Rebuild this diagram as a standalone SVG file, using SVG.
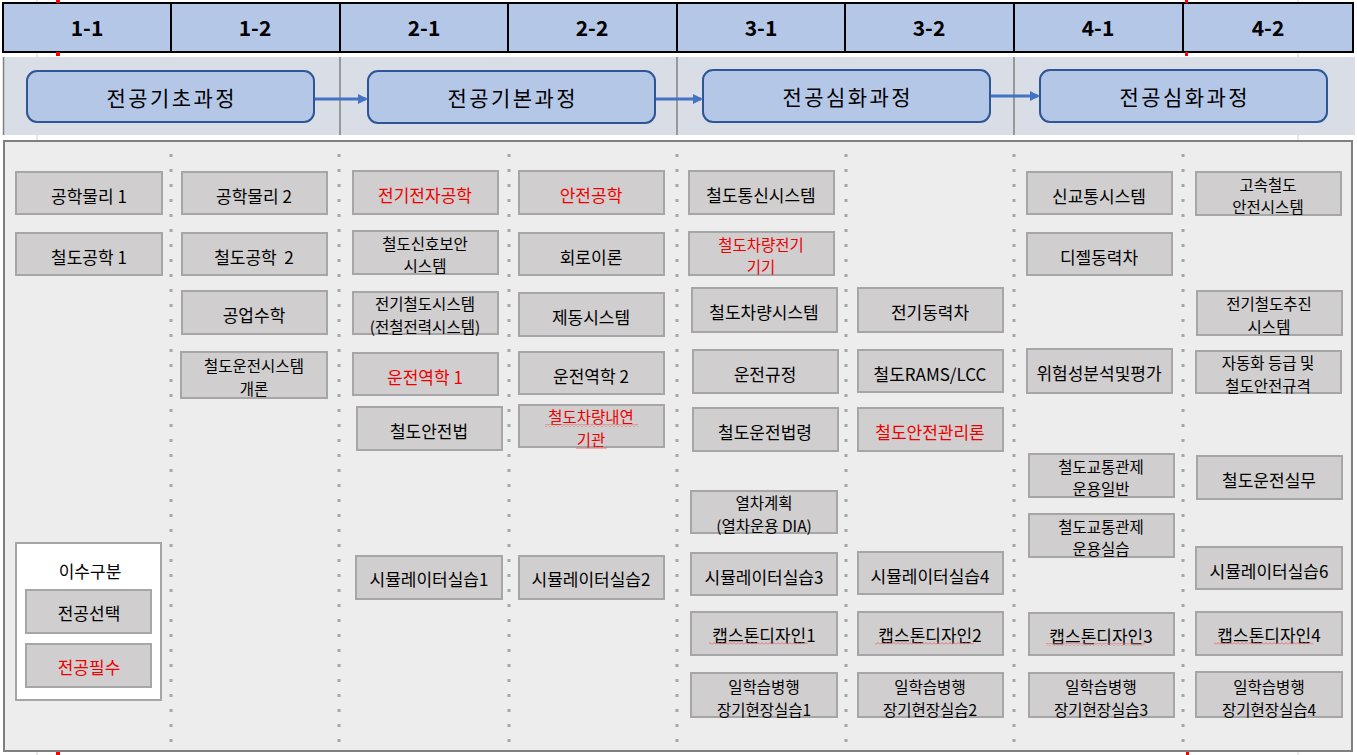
<svg xmlns="http://www.w3.org/2000/svg" width="1357" height="755" viewBox="0 0 1357 755">
<style>
.hc{fill:#b4c7e7;stroke:#000;stroke-width:2}
.ht{font-family:"Noto Sans CJK KR","Noto Sans",sans-serif;font-weight:bold;font-size:21px;fill:#000;text-anchor:middle;dominant-baseline:central}
.pb{fill:#b4c7e7;stroke:#2f5597;stroke-width:2}
.pt{font-family:"Noto Sans CJK KR","Noto Sans",sans-serif;font-size:21px;letter-spacing:2.4px;fill:#000;text-anchor:middle;dominant-baseline:central}
.c{fill:#d0cece;stroke:#a6a6a6;stroke-width:2}
.t{font-family:"Noto Sans CJK KR","Noto Sans",sans-serif;font-size:17px;fill:#000;text-anchor:middle;dominant-baseline:central}
.t2{font-family:"Noto Sans CJK KR","Noto Sans",sans-serif;font-size:15.5px;fill:#000;text-anchor:middle;dominant-baseline:central}
.r{fill:#ee0000}
.dot{stroke:#a6a6a6;stroke-width:3;stroke-dasharray:3 12}
.ar{stroke:#4472c4;stroke-width:3;fill:none}
.wv{fill:url(#wave)}
.tick{fill:#ff0000}
</style>
<defs>
<marker id="ah" markerWidth="10" markerHeight="10" refX="8" refY="5" orient="auto" markerUnits="userSpaceOnUse">
<path d="M0,0 L10,5 L0,10 z" fill="#4472c4"/>
</marker>
<pattern id="wave" width="4" height="3" patternUnits="userSpaceOnUse">
<path d="M0 2.5 L2 0.5 L4 2.5" fill="none" stroke="#e06666" stroke-width="0.9"/>
</pattern>
</defs>
<rect x="0" y="0" width="1357" height="755" fill="#ffffff"/>
<line x1="37" y1="0" x2="37" y2="755" stroke="#d4d4d4" stroke-width="1"/>
<line x1="1298" y1="0" x2="1298" y2="755" stroke="#d4d4d4" stroke-width="1"/>

<g id="header">
<rect class="hc" x="3" y="3" width="168" height="49"/>
<rect class="hc" x="171" y="3" width="169" height="49"/>
<rect class="hc" x="340" y="3" width="168" height="49"/>
<rect class="hc" x="508" y="3" width="169" height="49"/>
<rect class="hc" x="677" y="3" width="168" height="49"/>
<rect class="hc" x="845" y="3" width="169" height="49"/>
<rect class="hc" x="1014" y="3" width="169" height="49"/>
<rect class="hc" x="1183" y="3" width="170" height="49"/>
<text class="ht" x="87" y="27">1-1</text>
<text class="ht" x="255" y="27">1-2</text>
<text class="ht" x="424" y="27">2-1</text>
<text class="ht" x="592" y="27">2-2</text>
<text class="ht" x="761" y="27">3-1</text>
<text class="ht" x="929" y="27">3-2</text>
<text class="ht" x="1098" y="27">4-1</text>
<text class="ht" x="1268" y="27">4-2</text>
</g>

<g id="band">
<rect x="3" y="57" width="1352" height="78" fill="#d9dde6"/>
<line x1="3.5" y1="57" x2="3.5" y2="135" stroke="#808080" stroke-width="1.5"/>
<line x1="340" y1="57" x2="340" y2="135" stroke="#808080" stroke-width="1.5"/>
<line x1="677" y1="57" x2="677" y2="135" stroke="#808080" stroke-width="1.5"/>
<line x1="1014" y1="57" x2="1014" y2="135" stroke="#808080" stroke-width="1.5"/>
</g>

<g id="content-bg">
<rect x="4" y="141" width="1348" height="610" fill="#ededed" stroke="#7f7f7f" stroke-width="2"/>
<line class="dot" x1="171" y1="154" x2="171" y2="750"/>
<line class="dot" x1="339" y1="154" x2="339" y2="750"/>
<line class="dot" x1="509" y1="154" x2="509" y2="750"/>
<line class="dot" x1="677" y1="154" x2="677" y2="750"/>
<line class="dot" x1="846" y1="154" x2="846" y2="750"/>
<line class="dot" x1="1014" y1="154" x2="1014" y2="750"/>
<line class="dot" x1="1183" y1="154" x2="1183" y2="750"/>
</g>

<g id="connectors">
<line class="ar" x1="314" y1="99" x2="366" y2="99" marker-end="url(#ah)"/>
<line class="ar" x1="655" y1="99" x2="701" y2="99" marker-end="url(#ah)"/>
<line class="ar" x1="990" y1="96" x2="1038" y2="96" marker-end="url(#ah)"/>
</g>

<g id="p_basic"><rect class="pb" x="27" y="71" width="287" height="51" rx="10"/><text class="pt" x="171.7" y="97">전공기초과정</text></g>
<g id="p_core"><rect class="pb" x="368" y="71" width="287" height="52" rx="10"/><text class="pt" x="512.7" y="97">전공기본과정</text></g>
<g id="p_adv1"><rect class="pb" x="703" y="70" width="287" height="52" rx="10"/><text class="pt" x="847.7" y="96">전공심화과정</text></g>
<g id="p_adv2"><rect class="pb" x="1040" y="70" width="287" height="52" rx="10"/><text class="pt" x="1184.7" y="96">전공심화과정</text></g>

<!-- 1-1 -->
<g id="n_phys1"><rect class="c" x="16" y="172" width="146" height="42"/><text class="t" x="89" y="195">공학물리 1</text></g>
<g id="n_rail1"><rect class="c" x="16" y="233" width="146" height="42"/><text class="t" x="89" y="256">철도공학 1</text></g>
<!-- 1-2 -->
<g id="n_phys2"><rect class="c" x="182" y="172" width="145" height="42"/><text class="t" x="254" y="195">공학물리 2</text></g>
<g id="n_rail2"><rect class="c" x="182" y="233" width="145" height="42"/><text class="t" x="254" y="256" xml:space="preserve">철도공학  2</text></g>
<g id="n_math"><rect class="c" x="182" y="291" width="145" height="43"/><text class="t" x="254" y="314">공업수학</text></g>
<g id="n_opsys"><rect class="c" x="181" y="352" width="146" height="46"/><text class="t2" x="254" y="365">철도운전시스템</text><text class="t2" x="254" y="387.5">개론</text></g>

<!-- legend -->
<g id="legend">
<rect x="16" y="543" width="145" height="157" fill="#ffffff" stroke="#a6a6a6" stroke-width="2"/>
<text class="t" x="90" y="570">이수구분</text>
<g id="lg_elective"><rect class="c" x="26" y="590" width="125" height="43"/><text class="t" x="89" y="612">전공선택</text></g>
<g id="lg_required"><rect class="c" x="26" y="644" width="125" height="43"/><text class="t r" x="89" y="666">전공필수</text></g>
</g>

<!-- 2-1 -->
<g id="n_elec"><rect class="c" x="353" y="171" width="145" height="43"/><text class="t r" x="425" y="194">전기전자공학</text></g>
<g id="n_signal"><rect class="c" x="353" y="231" width="145" height="43"/><text class="t2" x="425" y="242.5">철도신호보안</text><text class="t2" x="425" y="265">시스템</text></g>
<g id="n_elrail"><rect class="c" x="353" y="292" width="145" height="42"/><text class="t2" x="425" y="303">전기철도시스템</text><text class="t2" x="425" y="325.5">(전철전력시스템)</text></g>
<g id="n_dyn1"><rect class="c" x="353" y="353" width="145" height="42"/><text class="t r" x="425" y="376">운전역학 1</text></g>
<g id="n_safelaw"><rect class="c" x="357" y="407" width="145" height="43"/><text class="t" x="429" y="430">철도안전법</text></g>
<g id="n_sim1"><rect class="c" x="356" y="556" width="146" height="43"/><text class="t" x="429" y="578">시뮬레이터실습1</text></g>

<!-- 2-2 -->
<g id="n_safety"><rect class="c" x="519" y="171" width="145" height="43"/><text class="t r" x="591" y="194">안전공학</text></g>
<g id="n_circuit"><rect class="c" x="519" y="233" width="145" height="42"/><text class="t" x="591" y="256">회로이론</text></g>
<g id="n_brake"><rect class="c" x="519" y="293" width="145" height="43"/><text class="t" x="591" y="316">제동시스템</text></g>
<g id="n_dyn2"><rect class="c" x="519" y="352" width="145" height="42"/><text class="t" x="591" y="375">운전역학 2</text></g>
<g id="n_engine"><rect class="c" x="519" y="405" width="145" height="42"/><text class="t2 r" x="591" y="416">철도차량내연</text><text class="t2 r" x="591" y="438.5">기관</text>
<rect class="wv" x="545" y="424" width="93" height="3"/><rect class="wv" x="576" y="446" width="31" height="3"/></g>
<g id="n_sim2"><rect class="c" x="519" y="556" width="145" height="43"/><text class="t" x="591" y="578">시뮬레이터실습2</text></g>

<!-- 3-1 -->
<g id="n_comm"><rect class="c" x="689" y="171" width="145" height="43"/><text class="t" x="761" y="194">철도통신시스템</text></g>
<g id="n_vehelec"><rect class="c" x="689" y="232" width="145" height="43"/><text class="t2 r" x="761" y="243.5">철도차량전기</text><text class="t2 r" x="761" y="266">기기</text></g>
<g id="n_vehsys"><rect class="c" x="692" y="288" width="145" height="44"/><text class="t" x="764" y="311">철도차량시스템</text></g>
<g id="n_oprule"><rect class="c" x="693" y="350" width="145" height="43"/><text class="t" x="765" y="373">운전규정</text></g>
<g id="n_oplaw"><rect class="c" x="693" y="408" width="145" height="43"/><text class="t" x="765" y="431">철도운전법령</text></g>
<g id="n_plan"><rect class="c" x="691" y="491" width="146" height="42"/><text class="t2" x="764" y="502">열차계획</text><text class="t2" x="764" y="524.5">(열차운용 DIA)</text></g>
<g id="n_sim3"><rect class="c" x="691" y="553" width="146" height="42"/><text class="t" x="764" y="576">시뮬레이터실습3</text></g>
<g id="n_cap1"><rect class="c" x="691" y="612" width="146" height="43"/><text class="t" x="764" y="634">캡스톤디자인1</text><rect class="wv" x="709" y="642" width="99" height="3"/></g>
<g id="n_wl1"><rect class="c" x="691" y="673" width="146" height="44"/><text class="t2" x="764" y="686">일학습병행</text><text class="t2" x="764" y="708.5">장기현장실습1</text></g>

<!-- 3-2 -->
<g id="n_emu"><rect class="c" x="858" y="288" width="145" height="44"/><text class="t" x="930" y="311">전기동력차</text></g>
<g id="n_rams"><rect class="c" x="858" y="350" width="145" height="42"/><text class="t" x="930" y="373">철도RAMS/LCC</text></g>
<g id="n_safemgmt"><rect class="c" x="858" y="408" width="145" height="43"/><text class="t r" x="930" y="431">철도안전관리론</text></g>
<g id="n_sim4"><rect class="c" x="858" y="552" width="145" height="42"/><text class="t" x="930" y="575">시뮬레이터실습4</text></g>
<g id="n_cap2"><rect class="c" x="858" y="612" width="145" height="43"/><text class="t" x="930" y="634">캡스톤디자인2</text><rect class="wv" x="875" y="642" width="99" height="3"/></g>
<g id="n_wl2"><rect class="c" x="858" y="673" width="145" height="44"/><text class="t2" x="930" y="686">일학습병행</text><text class="t2" x="930" y="708.5">장기현장실습2</text></g>

<!-- 4-1 -->
<g id="n_newtrans"><rect class="c" x="1027" y="172" width="145" height="42"/><text class="t" x="1099" y="195">신교통시스템</text></g>
<g id="n_diesel"><rect class="c" x="1027" y="233" width="145" height="42"/><text class="t" x="1099" y="256">디젤동력차</text></g>
<g id="n_risk"><rect class="c" x="1027" y="349" width="145" height="44"/><text class="t" x="1099" y="372">위험성분석및평가</text></g>
<g id="n_ctrl1"><rect class="c" x="1029" y="454" width="145" height="43"/><text class="t2" x="1101" y="465.5">철도교통관제</text><text class="t2" x="1101" y="488">운용일반</text></g>
<g id="n_ctrl2"><rect class="c" x="1029" y="514" width="145" height="43"/><text class="t2" x="1101" y="525.5">철도교통관제</text><text class="t2" x="1101" y="548">운용실습</text></g>
<g id="n_cap3"><rect class="c" x="1029" y="613" width="145" height="42"/><text class="t" x="1101" y="635">캡스톤디자인3</text><rect class="wv" x="1046" y="643" width="99" height="3"/></g>
<g id="n_wl3"><rect class="c" x="1029" y="673" width="145" height="44"/><text class="t2" x="1101" y="686">일학습병행</text><text class="t2" x="1101" y="708.5">장기현장실습3</text></g>

<!-- 4-2 -->
<g id="n_hsr"><rect class="c" x="1196" y="172" width="145" height="43"/><text class="t2" x="1268" y="183.5">고속철도</text><text class="t2" x="1268" y="206">안전시스템</text></g>
<g id="n_propul"><rect class="c" x="1197" y="291" width="145" height="44"/><text class="t2" x="1269" y="303">전기철도추진</text><text class="t2" x="1269" y="325.5">시스템</text></g>
<g id="n_auto"><rect class="c" x="1196" y="351" width="145" height="42"/><text class="t2" x="1268" y="362">자동화 등급 및</text><text class="t2" x="1268" y="384.5">철도안전규격</text></g>
<g id="n_practice"><rect class="c" x="1197" y="456" width="145" height="43"/><text class="t" x="1269" y="479">철도운전실무</text></g>
<g id="n_sim6"><rect class="c" x="1196" y="547" width="146" height="42"/><text class="t" x="1269" y="570">시뮬레이터실습6</text></g>
<g id="n_cap4"><rect class="c" x="1196" y="612" width="146" height="43"/><text class="t" x="1269" y="634">캡스톤디자인4</text><rect class="wv" x="1214" y="642" width="99" height="3"/></g>
<g id="n_wl4"><rect class="c" x="1196" y="672" width="146" height="45"/><text class="t2" x="1269" y="686">일학습병행</text><text class="t2" x="1269" y="708.5">장기현장실습4</text></g>

<g id="ticks">
<rect class="tick" x="56" y="0" width="4" height="3"/>
<rect class="tick" x="56" y="52" width="4" height="4"/>
<rect class="tick" x="1185" y="0" width="3" height="3"/>
<rect class="tick" x="1185" y="52" width="3" height="4"/>
<rect class="tick" x="56" y="752" width="4" height="3"/>
<rect class="tick" x="1186" y="752" width="3" height="3"/>
</g>
</svg>
